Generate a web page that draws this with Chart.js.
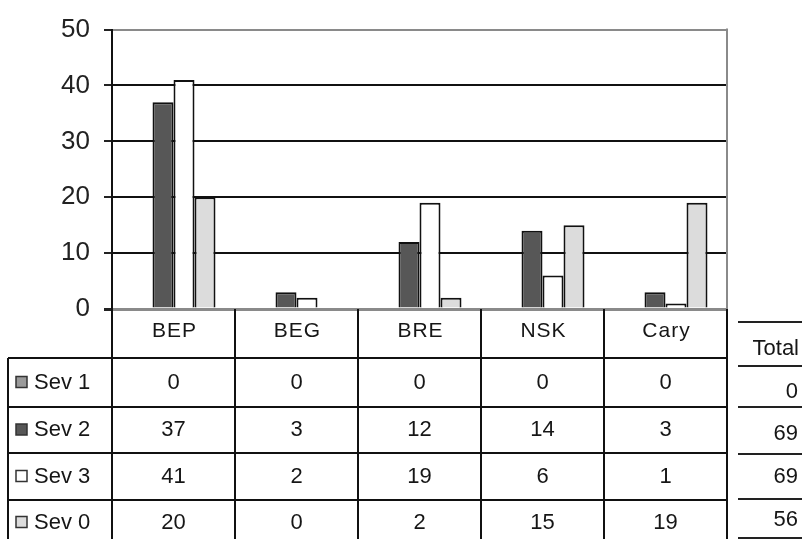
<!DOCTYPE html>
<html>
<head>
<meta charset="utf-8">
<style>
  html, body { margin: 0; padding: 0; background: #fff; }
  #wrap { width: 802px; height: 539px; position: relative; }
  canvas { display: block; }
</style>
<script src="https://cdn.jsdelivr.net/npm/chart.js@4/dist/chart.umd.min.js"></script>
</head>
<body>
<div id="wrap"><canvas id="c" width="802" height="539"></canvas></div>
<script>
// Sites along the x axis
const sites = ['BEP', 'BEG', 'BRE', 'NSK', 'Cary'];

// Issue counts per severity level, one value per site
const sev1 = [0, 0, 0, 0, 0];
const sev2 = [37, 3, 12, 14, 3];
const sev3 = [41, 2, 19, 6, 1];
const sev0 = [20, 0, 2, 15, 19];

const seriesNames = ['Sev 1', 'Sev 2', 'Sev 3', 'Sev 0'];
const yTicks = [0, 10, 20, 30, 40, 50];

const seriesValues = [sev1, sev2, sev3, sev0];
const fills = ['#9a9a9a', '#575757', '#ffffff', '#dcdcdc'];
const totals = seriesValues.map(arr => arr.reduce((a, b) => a + b, 0));

const FONT = '"Liberation Sans", Arial, sans-serif';
const INK = '#161616';

// Data table drawn underneath the plot, aligned to the category scale
const dataTable = {
  id: 'dataTable',
  afterDraw(chart) {
    const ctx = chart.ctx;
    const x = chart.scales.x;
    const area = chart.chartArea;
    const colW = (area.right - area.left) / sites.length;
    const top = area.bottom;
    const rowTops = [top + 49, top + 98, top + 144, top + 191];
    const rowBottom = 539;
    const leftEdge = 8;

    ctx.save();
    // right frame of the plot
    ctx.strokeStyle = '#8a8a8a';
    ctx.lineWidth = 2;
    ctx.beginPath();
    ctx.moveTo(area.right, area.top - 1);
    ctx.lineTo(area.right, area.bottom);
    ctx.stroke();

    // table grid
    ctx.strokeStyle = '#111';
    ctx.lineWidth = 2;
    ctx.beginPath();
    for (let i = 0; i <= sites.length; i++) {
      const xx = Math.round(area.left + i * colW);
      ctx.moveTo(xx, top);
      ctx.lineTo(xx, rowBottom);
    }
    ctx.moveTo(leftEdge, rowTops[0]);
    ctx.lineTo(leftEdge, rowBottom);
    rowTops.forEach(ry => {
      ctx.moveTo(leftEdge, ry);
      ctx.lineTo(area.right, ry);
    });
    ctx.stroke();

    // header cells
    ctx.fillStyle = INK;
    ctx.textAlign = 'center';
    ctx.textBaseline = 'middle';
    ctx.font = '21px ' + FONT;
    ctx.letterSpacing = '1px';
    sites.forEach((s, i) => {
      ctx.fillText(s, x.getPixelForValue(i) + 1, top + 22);
    });

    // value cells and row labels with swatches
    ctx.letterSpacing = '0px';
    seriesValues.forEach((vals, r) => {
      const rt = rowTops[r];
      const rb = r < rowTops.length - 1 ? rowTops[r + 1] : rowBottom + 6;
      const cy = (rt + rb) / 2;
      ctx.font = '22px ' + FONT;
      ctx.textAlign = 'center';
      vals.forEach((v, i) => {
        ctx.fillText(String(v), x.getPixelForValue(i), cy);
      });
      // swatch
      ctx.fillStyle = fills[r];
      ctx.fillRect(16, cy - 6, 11, 11);
      ctx.strokeStyle = '#333';
      ctx.lineWidth = 1.5;
      ctx.strokeRect(16, cy - 6, 11, 11);
      ctx.fillStyle = INK;
      ctx.textAlign = 'left';
      ctx.font = '22px ' + FONT;
      ctx.fillText(seriesNames[r], 34, cy);
    });

    // totals column
    ctx.strokeStyle = '#222';
    ctx.lineWidth = 2;
    const tl = 738, tr = 802;
    const tLines = [322, 366, 407, 454, 499, 538];
    ctx.beginPath();
    tLines.forEach(ty => { ctx.moveTo(tl, ty); ctx.lineTo(tr, ty); });
    ctx.stroke();
    ctx.fillStyle = INK;
    ctx.textAlign = 'right';
    ctx.font = '22px ' + FONT;
    ctx.fillText('Total', 799, 349);
    ctx.font = '22px ' + FONT;
    const tCenters = [392, 434, 477, 520];
    totals.forEach((t, r) => ctx.fillText(String(t), 798, tCenters[r]));
    ctx.restore();
  }
};

new Chart(document.getElementById('c'), {
  type: 'bar',
  data: {
    labels: sites,
    datasets: seriesNames.map((name, i) => ({
      label: name,
      data: seriesValues[i],
      backgroundColor: fills[i],
      borderColor: '#111',
      borderWidth: 2,
      borderSkipped: 'bottom',
      categoryPercentage: 0.683,
      barPercentage: 1.0
    }))
  },
  options: {
    responsive: false,
    animation: false,
    devicePixelRatio: 1,
    layout: { padding: { left: 0, right: 75, top: 24, bottom: 230 } },
    plugins: {
      legend: { display: false },
      tooltip: { enabled: false }
    },
    scales: {
      x: {
        display: false,
        offset: true
      },
      y: {
        min: 0,
        max: 50,
        afterFit(scale) { scale.width = 112; },
        afterBuildTicks(scale) { scale.ticks = yTicks.map(v => ({ value: v })); },
        border: { display: true, color: '#111', width: 2 },
        grid: {
          drawTicks: true,
          tickLength: 8,
          tickColor: '#222',
          color: ctx => (ctx.tick && (ctx.tick.value === 0 || ctx.tick.value === 50)) ? '#8a8a8a' : '#111',
          lineWidth: ctx => (ctx.tick && ctx.tick.value === 0) ? 3 : 2
        },
        ticks: {
          padding: 14,
          color: '#222',
          font: { family: FONT, size: 26 }
        }
      }
    }
  },
  plugins: [dataTable]
});
</script>
</body>
</html>
